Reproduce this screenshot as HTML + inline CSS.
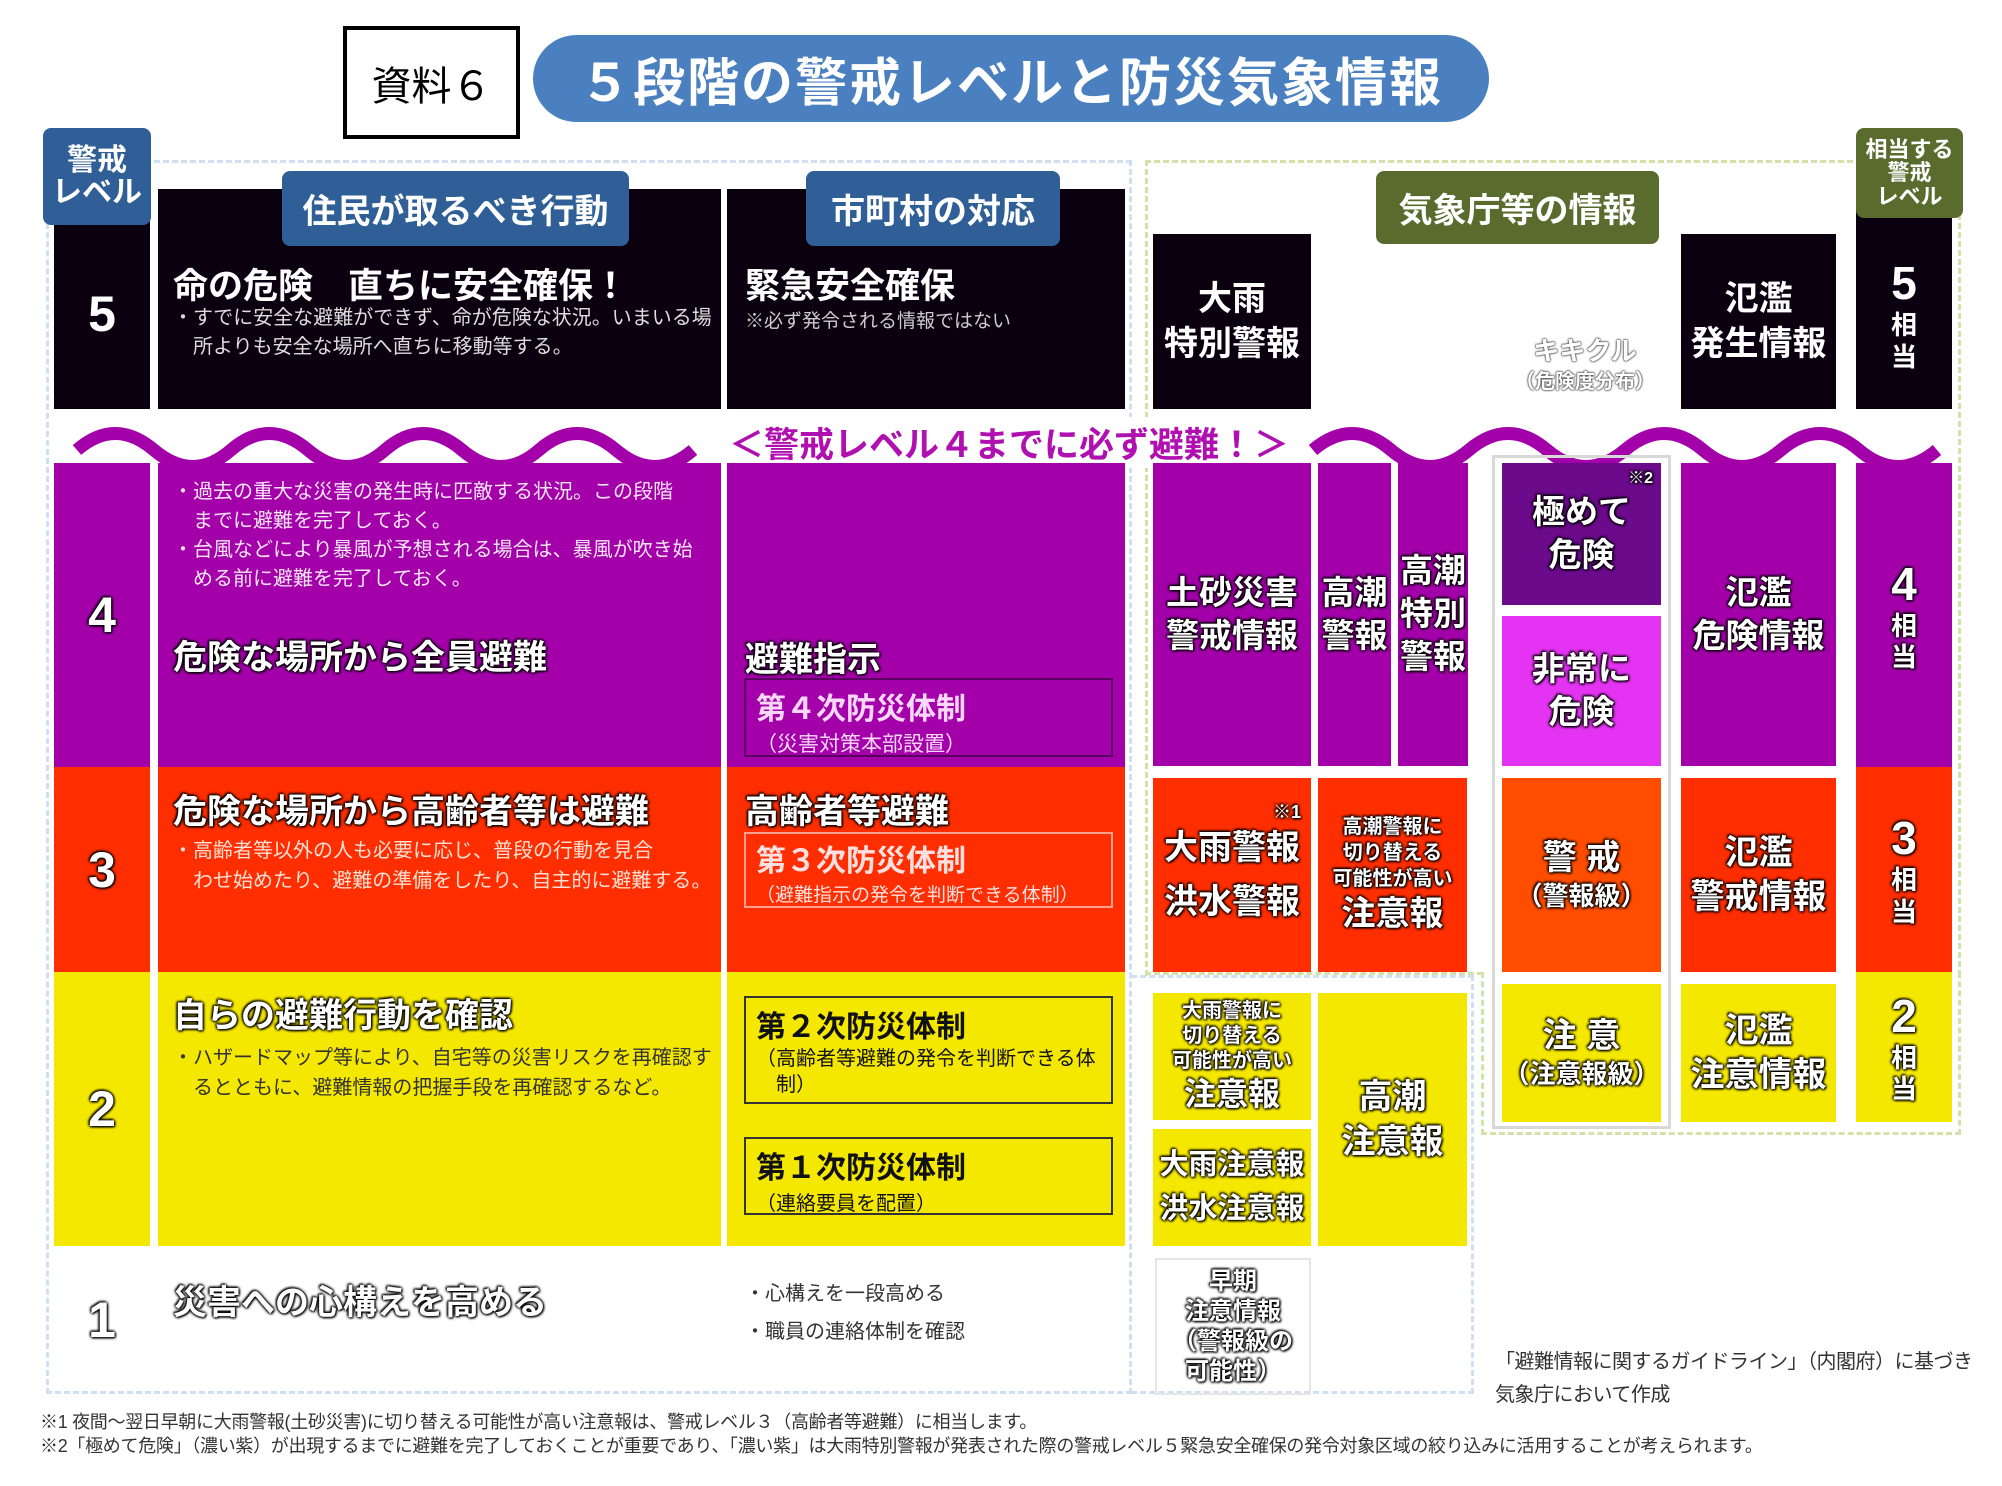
<!DOCTYPE html>
<html><head><meta charset="utf-8"><style>
*{margin:0;padding:0;box-sizing:border-box}
body{width:2002px;height:1486px;background:#fff;position:relative;overflow:hidden;font-family:"Liberation Sans","Noto Sans CJK JP",sans-serif}
div{position:absolute}
.c{display:flex;align-items:center;justify-content:center;text-align:center;flex-direction:column}
.k{background:#0a0010}.p{background:#a300aa}.r{background:#ff2e00}.y{background:#f5e800}
.ow{color:#fff;font-weight:bold;text-shadow:0 0 3px #000,0 0 3px #000,1px 1px 2px #000,-1px -1px 2px #000}
.wt{color:#fff;font-weight:bold}
.n{font-weight:bold;font-size:50px;line-height:1}
.hd{color:#fff;font-weight:bold;border-radius:8px}
.bx{border:2px solid}
.t{white-space:nowrap}
</style></head><body>
<div style="left:343px;top:26px;width:177px;height:113px;border:4px solid #000" class="c"><span style="font-size:40px">資料６</span></div>
<div class="c" style="left:533px;top:35px;width:956px;height:87px;background:#4b80c0;border-radius:44px;color:#fff;font-size:52px;font-weight:bold;letter-spacing:2px">５段階の警戒レベルと防災気象情報</div>
<!-- dashed boxes -->
<div style="left:46px;top:160px;width:1086px;height:1234px;border:3px dashed #cfe0f2"></div>
<div style="left:1131px;top:975px;width:343px;height:419px;border:3px dashed #cfe0f2;border-left:none"></div>
<div style="left:1145px;top:160px;width:816px;height:816px;border:3px dashed #d2e2a8;border-bottom:none"></div>
<div style="left:1145px;top:972px;width:338px;height:3px;border-top:3px dashed #d2e2a8"></div>
<div style="left:1481px;top:972px;width:480px;height:163px;border:3px dashed #d2e2a8;border-top:none"></div>
<!-- level 5 -->
<div class="k c wt n" style="left:54px;top:189px;width:96px;height:220px;padding-top:30px">5</div>
<div class="k" style="left:158px;top:189px;width:563px;height:220px"></div>
<div class="k" style="left:727px;top:189px;width:398px;height:220px"></div>
<div class="hd c" style="left:43px;top:128px;width:108px;height:97px;background:#2f5f96;font-size:30px;line-height:1.05">警戒<br>レベル</div>
<div class="hd c" style="left:282px;top:171px;width:347px;height:75px;background:#2f5f96;font-size:34px">住民が取るべき行動</div>
<div class="hd c" style="left:806px;top:171px;width:254px;height:75px;background:#2f5f96;font-size:34px">市町村の対応</div>
<div class="wt t" style="left:173px;top:258px;font-size:35px">命の危険　直ちに安全確保！</div>
<div class="t" style="left:173px;top:304px;font-size:20px;color:#ddd;line-height:29px">・すでに安全な避難ができず、命が危険な状況。いまいる場<br>　所よりも安全な場所へ直ちに移動等する。</div>
<div class="wt t" style="left:745px;top:258px;font-size:35px">緊急安全確保</div>
<div class="t" style="left:745px;top:306px;font-size:19px;color:#ccc">※必ず発令される情報ではない</div>
<div class="k c wt" style="left:1153px;top:234px;width:158px;height:175px;font-size:34px;line-height:1.3">大雨<br>特別警報</div>
<div class="k c wt" style="left:1681px;top:234px;width:155px;height:175px;font-size:34px;line-height:1.3">氾濫<br>発生情報</div>
<div class="k c wt" style="left:1856px;top:200px;width:96px;height:209px;padding-top:20px"><span style="font-size:46px">5</span><span style="font-size:26px;line-height:1.2">相<br>当</span></div>
<div class="hd c" style="left:1856px;top:128px;width:107px;height:90px;background:#5a6b2e;font-size:22px;line-height:1.05">相当する<br>警戒<br>レベル</div>
<div class="hd c" style="left:1376px;top:171px;width:283px;height:73px;background:#5a6b2e;font-size:34px">気象庁等の情報</div>
<div class="c t" style="left:1500px;top:335px;width:170px;font-size:26px;color:#fff;font-weight:bold;text-shadow:0 0 2px #444,0 0 2px #444,0 0 1px #444;line-height:1.3">キキクル<br><span style="font-size:20px">（危険度分布）</span></div>
<!-- waves -->
<svg style="position:absolute;left:0;top:0" width="2002" height="1486">
<path d="M77,450 q38,-33 77,0 t77,0 t77,0 t77,0 t77,0 t77,0 t77,0 t77,0" fill="none" stroke="#a300aa" stroke-width="13"/>
<path d="M1313,450 q39,-33 78,0 t78,0 t78,0 t78,0 t78,0 t78,0 t78,0 t78,0" fill="none" stroke="#a300aa" stroke-width="13"/>
</svg>
<div class="t" style="left:729px;top:417px;font-size:35px;font-weight:bold;color:#b010b0;background:#fff">＜警戒レベル４までに必ず避難！＞</div>
<!-- level 4 -->
<div class="p c ow n" style="left:54px;top:463px;width:96px;height:304px">4</div>
<div class="p" style="left:158px;top:463px;width:563px;height:304px"></div>
<div class="p" style="left:727px;top:463px;width:398px;height:304px"></div>
<div class="t" style="left:173px;top:478px;font-size:20px;color:#f4e4f4;line-height:29px">・過去の重大な災害の発生時に匹敵する状況。この段階<br>　までに避難を完了しておく。<br>・台風などにより暴風が予想される場合は、暴風が吹き始<br>　める前に避難を完了しておく。</div>
<div class="ow t" style="left:173px;top:630px;font-size:34px">危険な場所から全員避難</div>
<div class="ow t" style="left:745px;top:632px;font-size:34px">避難指示</div>
<div class="bx" style="left:744px;top:678px;width:369px;height:79px;border-color:#5a0060;color:#fbd8fb;padding:4px 0 0 10px"><div class="t" style="position:static;font-size:30px;font-weight:bold">第４次防災体制</div><div class="t" style="position:static;font-size:21px">（災害対策本部設置）</div></div>
<div class="p c ow" style="left:1153px;top:463px;width:158px;height:303px;font-size:33px;line-height:1.3">土砂災害<br>警戒情報</div>
<div class="p c ow" style="left:1318px;top:463px;width:73px;height:303px;font-size:33px;line-height:1.3">高潮<br>警報</div>
<div class="p c ow" style="left:1398px;top:463px;width:70px;height:303px;font-size:33px;line-height:1.3">高潮<br>特別<br>警報</div>
<div style="left:1492px;top:455px;width:179px;height:674px;border:3px solid #d8d8d8"></div>
<div class="c ow" style="left:1502px;top:463px;width:159px;height:142px;background:#6c0a8c;font-size:33px;line-height:1.3">極めて<br>危険<span style="position:absolute;right:8px;top:6px;font-size:16px">※2</span></div>
<div class="c ow" style="left:1502px;top:616px;width:159px;height:150px;background:#e433f2;font-size:33px;line-height:1.3">非常に<br>危険</div>
<div class="p c ow" style="left:1681px;top:463px;width:155px;height:303px;font-size:33px;line-height:1.3">氾濫<br>危険情報</div>
<div class="p c ow" style="left:1856px;top:463px;width:96px;height:304px"><span style="font-size:46px">4</span><span style="font-size:26px;line-height:1.2">相<br>当</span></div>
<!-- level 3 -->
<div class="r c ow n" style="left:54px;top:767px;width:96px;height:205px">3</div>
<div class="r" style="left:158px;top:767px;width:563px;height:205px"></div>
<div class="r" style="left:727px;top:767px;width:398px;height:205px"></div>
<div class="ow t" style="left:173px;top:784px;font-size:34px">危険な場所から高齢者等は避難</div>
<div class="t" style="left:173px;top:836px;font-size:20px;color:#ffe0d4;line-height:30px">・高齢者等以外の人も必要に応じ、普段の行動を見合<br>　わせ始めたり、避難の準備をしたり、自主的に避難する。</div>
<div class="ow t" style="left:745px;top:784px;font-size:34px">高齢者等避難</div>
<div class="bx" style="left:744px;top:832px;width:369px;height:76px;border-color:#ffa090;color:#ffe0e0;padding:2px 0 0 10px"><div class="t" style="position:static;font-size:30px;font-weight:bold">第３次防災体制</div><div class="t" style="position:static;font-size:19px">（避難指示の発令を判断できる体制）</div></div>
<div class="r c ow" style="left:1153px;top:778px;width:158px;height:194px;font-size:34px;line-height:1.6">大雨警報<br>洪水警報<span style="position:absolute;right:10px;top:20px;font-size:18px">※1</span></div>
<div class="r c ow" style="left:1318px;top:778px;width:149px;height:194px;font-size:20px;line-height:1.3">高潮警報に<br>切り替える<br>可能性が高い<br><span style="font-size:34px">注意報</span></div>
<div class="c ow" style="left:1502px;top:778px;width:159px;height:194px;background:#ff4d00;font-size:34px;line-height:1.3">警 戒<br><span style="font-size:26px">（警報級）</span></div>
<div class="r c ow" style="left:1681px;top:778px;width:155px;height:194px;font-size:34px;line-height:1.3">氾濫<br>警戒情報</div>
<div class="r c ow" style="left:1856px;top:767px;width:96px;height:205px"><span style="font-size:46px">3</span><span style="font-size:26px;line-height:1.2">相<br>当</span></div>
<!-- level 2 -->
<div class="y c ow n" style="left:54px;top:972px;width:96px;height:274px">2</div>
<div class="y" style="left:158px;top:972px;width:563px;height:274px"></div>
<div class="y" style="left:727px;top:972px;width:398px;height:274px"></div>
<div class="ow t" style="left:173px;top:988px;font-size:34px">自らの避難行動を確認</div>
<div class="t" style="left:173px;top:1043px;font-size:20px;color:#333;line-height:30px">・ハザードマップ等により、自宅等の災害リスクを再確認す<br>　るとともに、避難情報の把握手段を再確認するなど。</div>
<div class="bx" style="left:744px;top:996px;width:369px;height:108px;border-color:#333;color:#111;padding:4px 0 0 10px"><div class="t" style="position:static;font-size:30px;font-weight:bold">第２次防災体制</div><div class="t" style="position:static;font-size:20px;line-height:26px">（高齢者等避難の発令を判断できる体<br>　制）</div></div>
<div class="bx" style="left:744px;top:1137px;width:369px;height:78px;border-color:#333;color:#111;padding:4px 0 0 10px"><div class="t" style="position:static;font-size:30px;font-weight:bold">第１次防災体制</div><div class="t" style="position:static;font-size:20px">（連絡要員を配置）</div></div>
<div class="y c ow" style="left:1153px;top:993px;width:158px;height:127px;font-size:20px;line-height:1.25">大雨警報に<br>切り替える<br>可能性が高い<br><span style="font-size:32px">注意報</span></div>
<div class="y c ow" style="left:1153px;top:1129px;width:158px;height:117px;font-size:29px;line-height:1.5">大雨注意報<br>洪水注意報</div>
<div class="y c ow" style="left:1318px;top:993px;width:149px;height:253px;font-size:34px;line-height:1.3">高潮<br>注意報</div>
<div class="y c ow" style="left:1502px;top:984px;width:159px;height:138px;font-size:34px;line-height:1.3">注 意<br><span style="font-size:26px">（注意報級）</span></div>
<div class="y c ow" style="left:1681px;top:984px;width:155px;height:138px;font-size:34px;line-height:1.3">氾濫<br>注意情報</div>
<div class="y c ow" style="left:1856px;top:972px;width:96px;height:150px"><span style="font-size:46px">2</span><span style="font-size:26px;line-height:1.2">相<br>当</span></div>
<!-- level 1 -->
<div class="c ow n" style="left:54px;top:1270px;width:96px;height:100px">1</div>
<div class="ow t" style="left:173px;top:1275px;font-size:34px">災害への心構えを高める</div>
<div class="t" style="left:745px;top:1275px;font-size:20px;color:#333;line-height:38px">・心構えを一段高める<br>・職員の連絡体制を確認</div>
<div class="c ow" style="left:1155px;top:1258px;width:156px;height:137px;border:2px solid #e6e6e6;font-size:24px;line-height:1.25">早期<br>注意情報<br>（警報級の<br>可能性）</div>
<div class="t" style="left:1495px;top:1346px;font-size:20px;color:#333;line-height:33px;letter-spacing:-0.5px">「避難情報に関するガイドライン」（内閣府）に基づき<br>気象庁において作成</div>
<div class="t" style="left:40px;top:1410px;font-size:18px;color:#333;line-height:24px;letter-spacing:-0.3px">※1 夜間～翌日早朝に大雨警報(土砂災害)に切り替える可能性が高い注意報は、警戒レベル３（高齢者等避難）に相当します。<br>※2「極めて危険」（濃い紫）が出現するまでに避難を完了しておくことが重要であり、「濃い紫」は大雨特別警報が発表された際の警戒レベル５緊急安全確保の発令対象区域の絞り込みに活用することが考えられます。</div>
</body></html>
